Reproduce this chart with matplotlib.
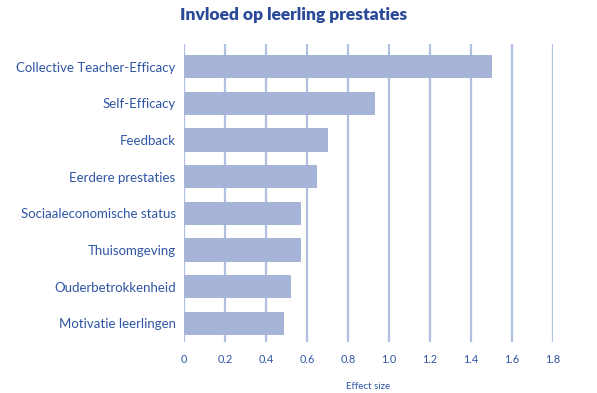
import matplotlib
matplotlib.use("Agg")
import matplotlib.pyplot as plt

categories = ["Collective Teacher-Efficacy", "Self-Efficacy", "Feedback",
              "Eerdere prestaties", "Sociaaleconomische status", "Thuisomgeving",
              "Ouderbetrokkenheid", "Motivatie leerlingen"]
values = [1.50, 0.93, 0.70, 0.65, 0.57, 0.57, 0.52, 0.49]
xticks = [0, 0.2, 0.4, 0.6, 0.8, 1.0, 1.2, 1.4, 1.6, 1.8]
xticklabels = ["0", "0.2", "0.4", "0.6", "0.8", "1.0", "1.2", "1.4", "1.6", "1.8"]

plt.rcParams['font.family'] = ['Lato', 'DejaVu Sans']

W, H = 597, 393
fig = plt.figure(figsize=(W/100, H/100), dpi=100)
left, right, top, bottom = 184, 553, 44, 341.7
ax = fig.add_axes([left/W, 1-bottom/H, (right-left)/W, (bottom-top)/H])

label_col = "#2f55a4"
bar_col = "#a6b5d7"
grid_col = "#b0bfe2"

y = list(range(len(categories)))
ax.barh(y, values, height=0.635, color=bar_col, zorder=2)
ax.set_xlim(0, 1.8)
ax.set_ylim(len(categories)-0.5, -0.62)
for t in xticks:
    ax.axvline(t, color=grid_col, lw=1.6, zorder=1)
for s in ax.spines.values():
    s.set_visible(False)
ax.set_yticks(y)
ax.set_yticklabels(categories, fontsize=9.5, color=label_col)
ax.set_xticks(xticks)
ax.set_xticklabels(xticklabels, fontsize=7.8, color=label_col)
ax.tick_params(length=0)
ax.tick_params(axis='y', pad=6)
ax.tick_params(axis='x', pad=9)
ax.set_xlabel("Effect size", fontsize=7, color=label_col, labelpad=12)
fig.text(294/W, 1-15/H, "Invloed op leerling prestaties", fontsize=12.5,
         fontweight='heavy', color="#2a4a99", ha='center', va='center')
fig.savefig("out.png", dpi=100)
